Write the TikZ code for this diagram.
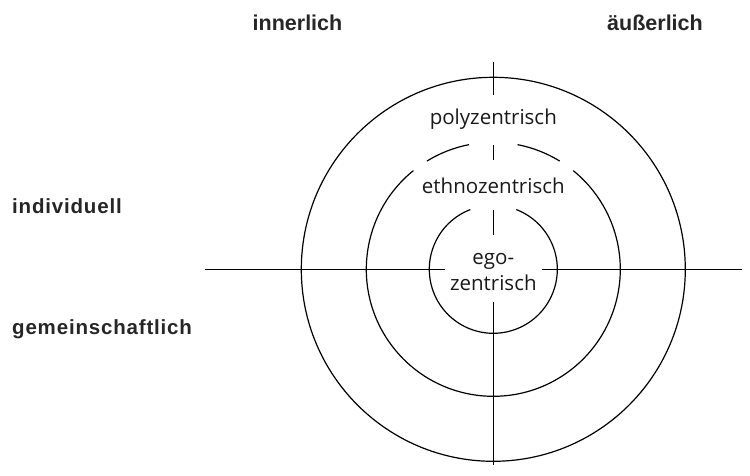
\documentclass[tikz,border=0pt]{standalone}
\usepackage{fontspec}
\newfontfamily\ringfont{Open Sans}
\newfontfamily\topfont{Liberation Sans Bold}
\newfontfamily\sidefont[LetterSpace=4]{Liberation Sans Bold}
\begin{document}
\begin{tikzpicture}[x=1pt,y=1pt,
  ringline/.style={line width=1.2pt},
  axisline/.style={line width=1.2pt},
  ringlabel/.style={font={\ringfont\fontsize{20.5}{24}\selectfont}, inner sep=0pt, anchor=base, text=black!90},
  toplabel/.style={font={\topfont\fontsize{21.5}{26}\selectfont}, inner sep=0pt, anchor=base, text=black!85},
  sidelabel/.style={font={\sidefont\fontsize{20.5}{23}\selectfont}, inner sep=0pt, anchor=base west, text=black!85}]
\useasboundingbox (0,0) rectangle (750,475);
\coordinate (C) at (493.3,205.7);
% circles
\draw[ringline] (C) circle[radius=192];
\draw[ringline] (C) ++(129:127) arc[start angle=129,end angle=411,radius=127];
\draw[ringline] (C) ++(58.5:127) arc[start angle=58.5,end angle=79,radius=127];
\draw[ringline] (C) ++(101:127) arc[start angle=101,end angle=121.5,radius=127];
\draw[ringline] (C) ++(111:64) arc[start angle=111,end angle=429,radius=64];
% axes
\coordinate (hL1) at (205,205.7);
\coordinate (hL2) at (445,205.7);
\coordinate (hR1) at (541.7,205.7);
\coordinate (hR2) at (742,205.7);
\coordinate (v1a) at (493.3,413);
\coordinate (v1b) at (493.3,380);
\coordinate (v2a) at (493.3,330);
\coordinate (v2b) at (493.3,315);
\coordinate (v3a) at (493.3,265);
\coordinate (v3b) at (493.3,240);
\coordinate (v4a) at (493.3,173);
\coordinate (v4b) at (493.3,10);
\draw[axisline] (hL1) -- (hL2);
\draw[axisline] (hR1) -- (hR2);
\draw[axisline] (v1a) -- (v1b);
\draw[axisline] (v2a) -- (v2b);
\draw[axisline] (v3a) -- (v3b);
\draw[axisline] (v4a) -- (v4b);
% ring labels
\node[ringlabel] (poly) at (493.3,350) {polyzentrisch};
\node[ringlabel] (ethno) at (493.3,281.7) {ethnozentrisch};
\node[ringlabel] (ego) at (493.3,211) {ego-};
\node[ringlabel] (egozen) at (493.3,185) {zentrisch};
% axis labels
\node[toplabel] (inner) at (297.5,444.3) {innerlich};
\node[toplabel] (outer) at (655,444.3) {äußerlich};
\node[sidelabel] (indiv) at (12,261.7) {individuell};
\node[sidelabel] (gemein) at (12,141) {gemeinschaftlich};
\end{tikzpicture}
\end{document}
